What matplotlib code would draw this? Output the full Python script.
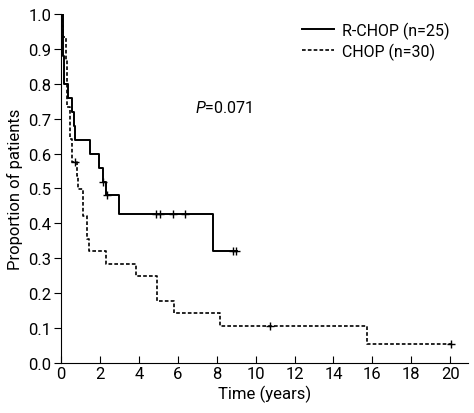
import numpy as np
import matplotlib
matplotlib.use('Agg')
import matplotlib.pyplot as plt

plt.rcParams['font.family'] = ['Roboto', 'Liberation Sans', 'DejaVu Sans']
plt.rcParams['mathtext.fontset'] = 'custom'
plt.rcParams['mathtext.it'] = 'Roboto:italic'
plt.rcParams['mathtext.rm'] = 'Roboto'

# R-CHOP (n=25): step times and survival after each step
rchop_t = [0, 0.08, 0.10, 0.12, 0.14, 0.16, 0.38, 0.55, 0.67, 0.72, 1.49, 1.97, 2.14, 2.31, 3.0, 7.8, 9.05]
rchop_s = [1.0, 0.96, 0.92, 0.88, 0.84, 0.80, 0.76, 0.72, 0.68, 0.64, 0.60, 0.56, 0.52, 0.48, 0.427, 0.32, 0.32]
rchop_cens_t = [2.14, 2.38, 4.9, 5.07, 5.73, 6.37, 8.85, 8.97]

# CHOP (n=30)
chop_t = [0, 0.05, 0.12, 0.27, 0.29, 0.31, 0.46, 0.59, 0.80, 0.89, 1.15, 1.32, 1.46, 2.30, 3.84, 4.92, 5.81, 8.17, 15.7, 20.04]
chop_s = [1.0, 0.967, 0.933, 0.867, 0.80, 0.733, 0.642, 0.576, 0.537, 0.499, 0.422, 0.355, 0.322, 0.284, 0.248, 0.177, 0.142, 0.107, 0.054, 0.054]
chop_cens_t = [0.72, 10.75, 20.04]

xticks = np.arange(0, 21, 2)
yticks = np.arange(0, 1.01, 0.1)


def surv_at(ts, ss, x):
    idx = np.searchsorted(ts, x, side='right') - 1
    return ss[idx]


fig = plt.figure(figsize=(4.74, 4.14), dpi=100)
ax = fig.add_axes([0.1287, 0.1208, 0.858, 0.843])

ax.step(rchop_t, rchop_s, where='post', color='black', lw=1.4, label='R-CHOP (n=25)')
ax.step(chop_t, chop_s, where='post', color='black', lw=1.2, linestyle=(0, (2.2, 1.3)), label='CHOP (n=30)')

ax.plot(rchop_cens_t, [surv_at(rchop_t, rchop_s, x) for x in rchop_cens_t], '+', color='black', ms=6, mew=1.0)
ax.plot(chop_cens_t, [surv_at(chop_t, chop_s, x) for x in chop_cens_t], '+', color='black', ms=6, mew=1.0)

ax.text(6.9, 0.733, r'$P$=0.071', fontsize=11.5, va='center', ha='left')

ax.set_xlim(0, 20.9)
ax.set_ylim(0, 1.0)
ax.set_xticks(xticks)
ax.set_yticks(yticks)
ax.set_yticklabels(['%.1f' % v for v in yticks])
ax.tick_params(axis='x', direction='in', length=5, labelsize=12, pad=2)
ax.tick_params(axis='y', direction='out', length=5, labelsize=12, pad=2)
ax.spines['top'].set_visible(False)
ax.spines['right'].set_visible(False)
ax.set_xlabel('Time (years)', fontsize=12, labelpad=3)
ax.set_ylabel('Proportion of patients', fontsize=12, labelpad=4)

ax.legend(loc='upper right', bbox_to_anchor=(0.99, 1.02), frameon=False, fontsize=11.5,
          handlelength=2.0, handletextpad=0.5, labelspacing=0.25)

fig.savefig('out.png', dpi=100)
